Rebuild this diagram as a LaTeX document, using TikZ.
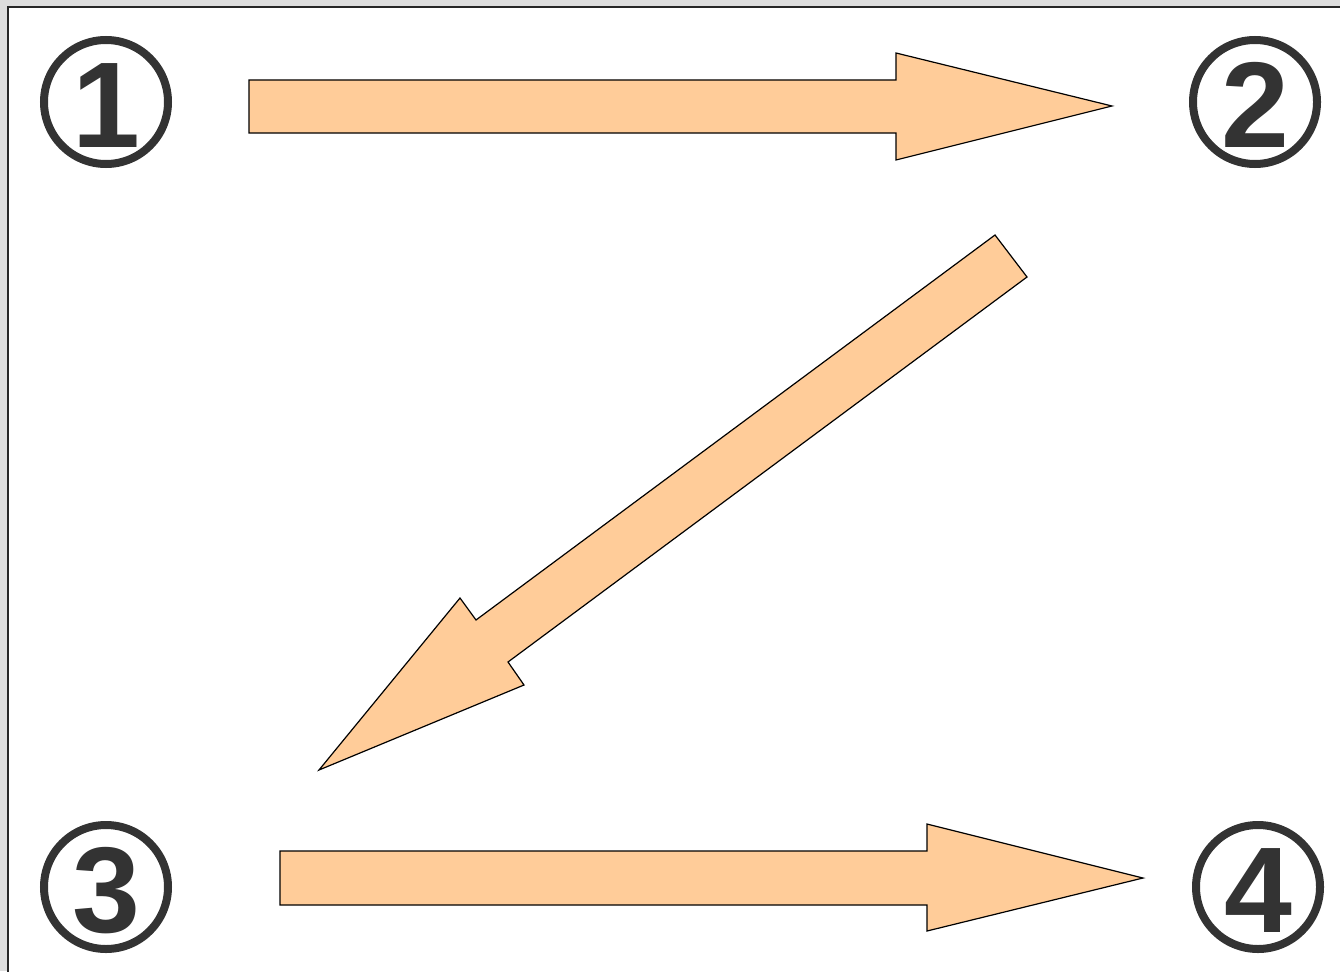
\documentclass[tikz,border=0pt]{standalone}
\usepackage{fontspec}
\setmainfont{Liberation Sans}
\definecolor{bggray}{HTML}{DDDDDD}
\definecolor{numgray}{HTML}{333333}
\definecolor{peach}{HTML}{FFCC99}
\begin{document}
\begin{tikzpicture}[x=1pt,y=-1pt,
  numcircle/.style={circle,draw=numgray,line width=8pt,minimum size=124pt,inner sep=0pt,
    text=numgray,font=\fontsize{122}{122}\selectfont\bfseries},
  bigarrow/.style={fill=peach,draw=black,line width=1.2pt,line join=miter}]
\useasboundingbox (0,0) rectangle (1340,971);
\fill[bggray] (0,0) rectangle (1340,971);
\fill[white] (8,7) rectangle (1345,976);
\draw[black!85,line width=1.6pt] (8,976) -- (8,7) -- (1345,7);
\node[numcircle] (c1) at (106,102) {};
\node[numcircle] (c2) at (1255,102) {};
\node[numcircle] (c3) at (106,887) {};
\node[numcircle] (c4) at (1258,887) {};
\node[text=numgray,font=\fontsize{122}{122}\selectfont\bfseries,inner sep=0pt,anchor=base] (n1) at ([yshift=-45pt]c1.center) {1};
\node[text=numgray,font=\fontsize{122}{122}\selectfont\bfseries,inner sep=0pt,anchor=base] (n2) at ([yshift=-45pt]c2.center) {2};
\node[text=numgray,font=\fontsize{122}{122}\selectfont\bfseries,inner sep=0pt,anchor=base] (n3) at ([yshift=-45pt]c3.center) {3};
\node[text=numgray,font=\fontsize{122}{122}\selectfont\bfseries,inner sep=0pt,anchor=base] (n4) at ([yshift=-45pt]c4.center) {4};
% arrow 1 -> 2
\draw[bigarrow] (249,80) -- (896,80) -- (896,53) -- (1112,106) -- (896,160) -- (896,133) -- (249,133) -- cycle;
% arrow 2 -> 3
\draw[bigarrow] (995,235) -- (1027,277) -- (508,662) -- (524,685) -- (319,770) -- (460,598) -- (476,620) -- cycle;
% arrow 3 -> 4
\draw[bigarrow] (280,851) -- (927,851) -- (927,824) -- (1143,878) -- (927,931) -- (927,905) -- (280,905) -- cycle;
\end{tikzpicture}
\end{document}
